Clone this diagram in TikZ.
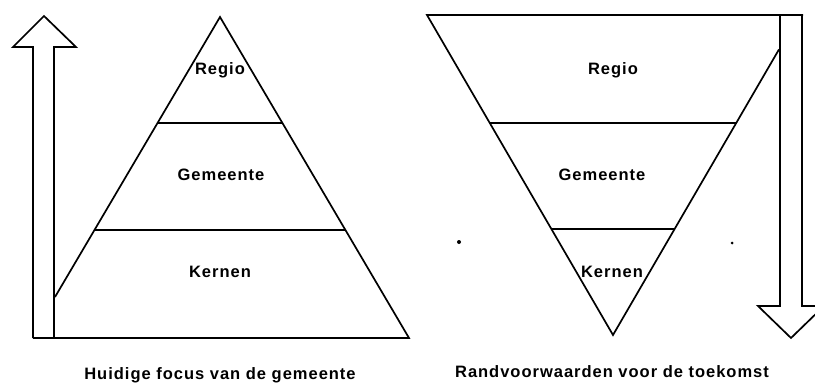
\documentclass[tikz,border=0pt]{standalone}
\usepackage{fontspec}
\setmainfont{Liberation Sans}
\newfontfamily\lblfont[LetterSpace=6]{Liberation Sans Bold}
\begin{document}
\begin{tikzpicture}[x=1pt,y=-1pt,
  shape line/.style={draw=black,line width=1.7pt,line join=miter},
  thin line/.style={draw=black,line width=1.5pt},
  lbl/.style={font=\lblfont\fontsize{16.5}{18}\selectfont,inner sep=0pt,anchor=center},
  captiontext/.style={font=\lblfont\fontsize{16.5}{18}\selectfont,inner sep=0pt,anchor=center}]
\useasboundingbox (0,0) rectangle (815,383);
\clip (0,0) rectangle (815,383);
% ---------- left panel ----------
% up arrow
\draw[shape line] (33,338) -- (33,47) -- (13,47) -- (44,16) -- (76,47) -- (54,47) -- (54,338);
% pyramid
\draw[shape line] (33,338) -- (409,338) -- (220,17) -- (55,297);
\draw[thin line] (157.5,123) -- (282.5,123);
\draw[thin line] (94.5,230) -- (345.5,230);
\node[lbl] (lregio) at (220,70) {Regio};
\node[lbl] (lgem) at (221,175) {Gemeente};
\node[lbl] (lkern) at (220,272) {Kernen};
\node[captiontext] (lcap) at (220,375) {Huidige focus van de gemeente};
% ---------- right panel ----------
% inverted pyramid
\draw[shape line] (779,49.4) -- (613,335) -- (427,15) -- (803,15);
\draw[thin line] (489.8,123) -- (736.2,123);
\draw[thin line] (551.2,229) -- (674.8,229);
% down arrow
\draw[shape line] (780,15) -- (780,306) -- (758,306) -- (791,338) -- (824,306) -- (802,306) -- (802,15);
\node[lbl] (rregio) at (613,70) {Regio};
\node[lbl] (rgem) at (602,175) {Gemeente};
\node[lbl] (rkern) at (612,272) {Kernen};
\node[captiontext] (rcap) at (612,372) {Randvoorwaarden voor de toekomst};
% stray dots
\fill (459,242) circle (2);
\fill (732,243) circle (1.5);
\end{tikzpicture}
\end{document}
